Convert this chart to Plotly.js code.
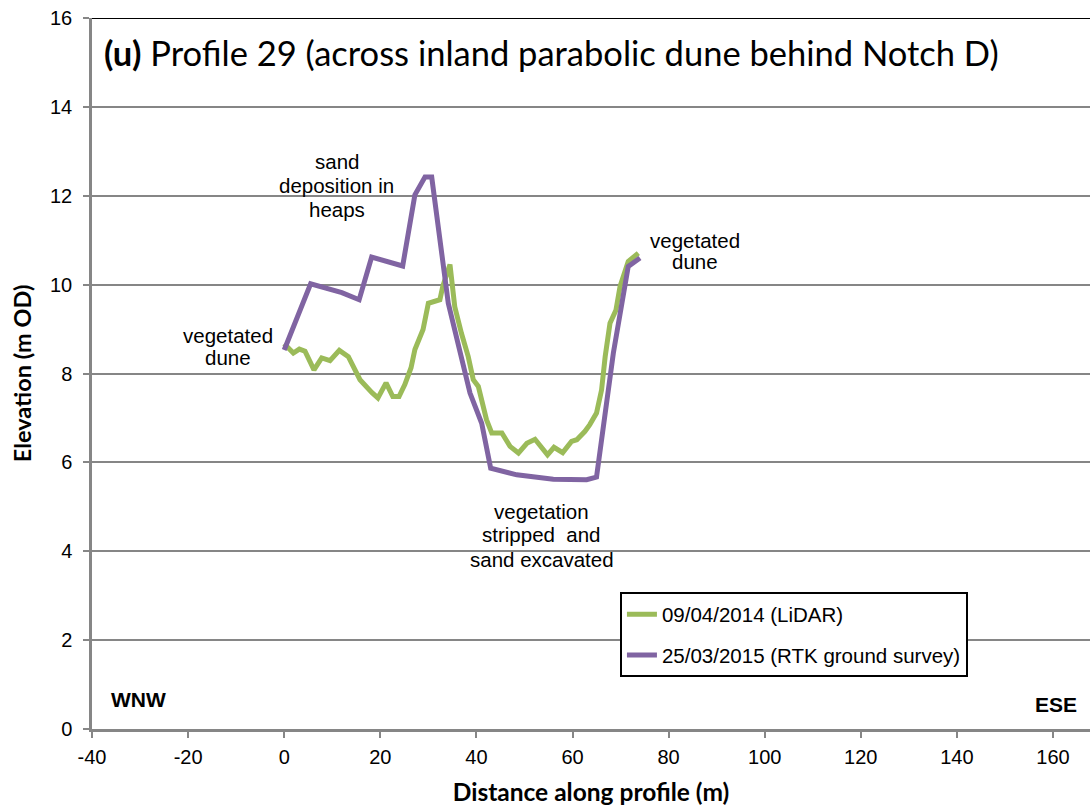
<!DOCTYPE html>
<html>
<head>
<meta charset="utf-8">
<script src="https://cdn.plot.ly/plotly-3.0.1.min.js"></script>
<style>html,body{margin:0;padding:0;background:#fff;}#chart{width:1090px;height:809px;}</style>
</head>
<body>
<div id="chart"></div>
<script>
// LiDAR 09/04/2014
const lidarX = [0, 1.9, 3.15, 4.33, 6.2, 7.8, 9.53, 11.47, 13.35, 15.77, 18.27, 19.5, 21.2, 22.6, 23.9, 25.1, 26.4, 27.2, 28.9, 30.0, 32.4, 33.0, 34.5, 35.5, 36.9, 38.3, 39.35, 40.4, 42.1, 43.2, 45.3, 47.0, 48.75, 50.5, 52.2, 53.6, 54.8, 56.15, 57.96, 59.8, 60.9, 62.6, 63.6, 65.0, 66.05, 66.8, 67.8, 69.05, 69.9, 71.6, 73.7];
const lidarY = [8.67, 8.46, 8.55, 8.5, 8.08, 8.35, 8.29, 8.52, 8.38, 7.86, 7.57, 7.45, 7.79, 7.48, 7.48, 7.75, 8.13, 8.54, 8.99, 9.58, 9.66, 9.96, 10.45, 9.5, 8.9, 8.38, 7.86, 7.71, 6.96, 6.66, 6.66, 6.36, 6.21, 6.43, 6.52, 6.32, 6.17, 6.34, 6.22, 6.47, 6.51, 6.7, 6.85, 7.11, 7.63, 8.38, 9.13, 9.43, 9.96, 10.52, 10.71];
// RTK 25/03/2015
const rtkX = [0, 5.5, 12, 15.6, 18.2, 24.66, 27.2, 29.3, 30.7, 34.15, 38.67, 41.1, 42.97, 48.4, 56.0, 62.95, 65.0, 66.77, 68.5, 71.6, 74.05];
const rtkY = [8.53, 10.02, 9.82, 9.66, 10.62, 10.42, 12.02, 12.42, 12.42, 9.58, 7.56, 6.88, 5.87, 5.72, 5.62, 5.61, 5.67, 7.18, 8.46, 10.41, 10.6];
const seriesNames = ["09/04/2014 (LiDAR)", "25/03/2015 (RTK ground survey)"];
const xTicks = [-40, -20, 0, 20, 40, 60, 80, 100, 120, 140, 160];
const yTicks = [0, 2, 4, 6, 8, 10, 12, 14, 16];

const arial = "Liberation Sans, Arial, sans-serif";
const cal = "Lato, Carlito, Calibri, sans-serif";

const traces = [
  {x: lidarX, y: lidarY, name: seriesNames[0], legendgroup: "a", mode: "lines", line: {color: "#9BBB59", width: 5}},
  {x: rtkX, y: rtkY, name: seriesNames[1], legendgroup: "b", mode: "lines", line: {color: "#8064A2", width: 5}}
];

function note(text, x, y, opts) {
  return Object.assign({xref: "x", yref: "y", x: x, y: y, showarrow: false, xanchor: "center", yanchor: "middle",
    text: text, font: {family: arial, size: 20.5, color: "#000"}}, opts || {});
}

const layout = {
  width: 1090, height: 809,
  margin: {l: 92, r: 0, t: 18, b: 80},
  paper_bgcolor: "#fff", plot_bgcolor: "#fff",
  showlegend: true,
  legend: {x: 0.529, y: 0.192, xanchor: "left", yanchor: "top", bordercolor: "#000", borderwidth: 2,
           bgcolor: "#fff", font: {family: arial, size: 20.5, color: "#000"}, itemwidth: 30, tracegroupgap: 11},
  xaxis: {range: [-40, 167.7], tickvals: xTicks, ticktext: xTicks.map(String), showgrid: false, zeroline: false,
          showline: true, linecolor: "#868686", linewidth: 2.5, ticks: "outside", ticklen: 6, tickcolor: "#868686", tickwidth: 1.5,
          ticklabelstandoff: 2,
          tickfont: {family: arial, size: 20, color: "#000"},
          title: {text: "<b>Distance along profile (m)</b>", font: {family: cal, size: 24.5, color: "#000"}, standoff: 18}},
  yaxis: {range: [0, 16], tickvals: yTicks, ticktext: yTicks.map(String), showgrid: true, gridcolor: "#868686", gridwidth: 2, zeroline: false,
          showline: true, linecolor: "#868686", linewidth: 2.5, ticks: "outside", ticklen: 6, tickcolor: "#868686", tickwidth: 1.5,
          ticklabelstandoff: 7,
          tickfont: {family: arial, size: 20, color: "#000"},
          title: {text: "<b>Elevation (m OD)</b>", font: {family: cal, size: 23.5, color: "#000"}, standoff: 12}},
  shapes: [
    {type: "line", xref: "paper", yref: "y", x0: 0, x1: 1, y0: 16, y1: 16, line: {color: "#000", width: 2}}
  ],
  annotations: [
    {xref: "paper", yref: "paper", x: 0.01, y: 0.952, xanchor: "left", yanchor: "middle", showarrow: false,
     text: "<b>(u)</b> Profile 29 (across inland parabolic dune behind Notch D)", font: {family: cal, size: 34.5, color: "#000"}},
    note("sand", 10.9, 12.76), note("deposition in", 10.9, 12.22), note("heaps", 10.9, 11.68),
    note("vegetated", -11.7, 8.85), note("dune", -11.7, 8.35),
    note("vegetated", 85.5, 11.0), note("dune", 85.5, 10.51),
    note("vegetation", 53.65, 4.89), note("stripped  and", 53.65, 4.37), note("sand excavated", 53.65, 3.81),
    note("<b>WNW</b>", -36.46, 0.66, {xanchor: "left", font: {family: arial, size: 21, color: "#000"}}),
    note("<b>ESE</b>", 165.4, 0.55, {xanchor: "right", font: {family: arial, size: 21, color: "#000"}})
  ]
};

Plotly.newPlot("chart", traces, layout, {displayModeBar: false, responsive: false});
</script>
</body>
</html>
